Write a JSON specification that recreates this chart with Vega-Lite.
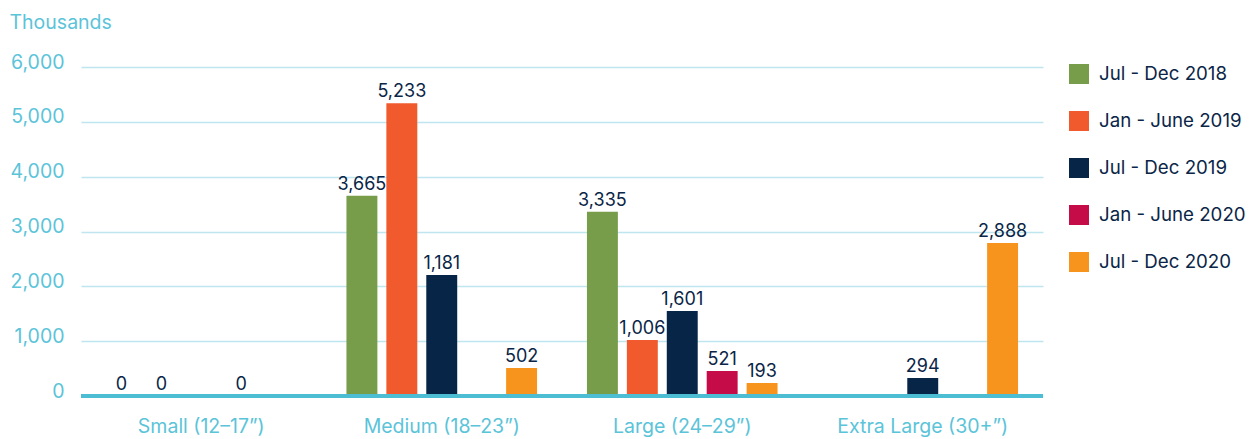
{
  "$schema": "https://vega.github.io/schema/vega-lite/v6.json",
  "width": 962,
  "height": 329,
  "autosize": {"type": "none"},
  "padding": {"left": 81, "top": 67, "right": 216, "bottom": 43},
  "background": "white",
  "config": {
    "view": {"stroke": null},
    "font": "Inter",
    "text": {"font": "Inter"}
  },
  "data": {
    "values": [
      {"size": "Small (12–17”)", "period": "Jul - Dec 2018", "value": 0, "label": "0"},
      {"size": "Small (12–17”)", "period": "Jan - June 2019", "value": 0, "label": "0"},
      {"size": "Small (12–17”)", "period": "Jan - June 2020", "value": 0, "label": "0"},
      {"size": "Medium (18–23”)", "period": "Jul - Dec 2018", "value": 3650, "label": "3,665"},
      {"size": "Medium (18–23”)", "period": "Jan - June 2019", "value": 5340, "label": "5,233"},
      {"size": "Medium (18–23”)", "period": "Jul - Dec 2019", "value": 2208, "label": "1,181"},
      {"size": "Medium (18–23”)", "period": "Jul - Dec 2020", "value": 511, "label": "502"},
      {"size": "Large (24–29”)", "period": "Jul - Dec 2018", "value": 3358, "label": "3,335"},
      {"size": "Large (24–29”)", "period": "Jan - June 2019", "value": 1022, "label": "1,006"},
      {"size": "Large (24–29”)", "period": "Jul - Dec 2019", "value": 1551, "label": "1,601"},
      {"size": "Large (24–29”)", "period": "Jan - June 2020", "value": 456, "label": "521"},
      {"size": "Large (24–29”)", "period": "Jul - Dec 2020", "value": 237, "label": "193"},
      {"size": "Extra Large (30+”)", "period": "Jul - Dec 2019", "value": 328, "label": "294"},
      {"size": "Extra Large (30+”)", "period": "Jul - Dec 2020", "value": 2792, "label": "2,888"}
    ]
  },
  "encoding": {
    "x": {
      "field": "size",
      "type": "nominal",
      "sort": ["Small (12–17”)", "Medium (18–23”)", "Large (24–29”)", "Extra Large (30+”)"],
      "scale": {"paddingInner": 0, "paddingOuter": 0},
      "axis": {
        "title": null,
        "labelAngle": 0,
        "ticks": false,
        "domain": false,
        "labelPadding": 30,
        "labelFontSize": 19.5,
        "labelColor": "#5bc4d9",
        "labelBaseline": "middle"
      }
    },
    "xOffset": {
      "field": "period",
      "type": "nominal",
      "scale": {
        "domain": ["Jul - Dec 2018", "Jan - June 2019", "Jul - Dec 2019", "Jan - June 2020", "Jul - Dec 2020"],
        "paddingInner": 0.225,
        "paddingOuter": 0.625
      }
    },
    "y": {
      "field": "value",
      "type": "quantitative",
      "scale": {"domain": [0, 6000], "nice": false},
      "axis": {
        "values": [0, 1000, 2000, 3000, 4000, 5000, 6000],
        "format": ",d",
        "title": "Thousands",
        "titleAngle": 0,
        "titleAlign": "left",
        "titleBaseline": "alphabetic",
        "titleX": -72,
        "titleY": -39,
        "titleFontSize": 19.5,
        "titleFontWeight": "normal",
        "titleColor": "#5bc4d9",
        "ticks": false,
        "domain": false,
        "labelPadding": 17,
        "labelOffset": -5,
        "labelFontSize": 19.5,
        "labelColor": "#5bc4d9",
        "gridColor": "#bfe6ef",
        "gridWidth": 1.5
      }
    }
  },
  "layer": [
    {
      "mark": {"type": "bar"},
      "encoding": {
        "color": {
          "field": "period",
          "type": "nominal",
          "scale": {
            "domain": ["Jul - Dec 2018", "Jan - June 2019", "Jul - Dec 2019", "Jan - June 2020", "Jul - Dec 2020"],
            "range": ["#789d4a", "#f05a2c", "#062547", "#c50c49", "#f7941d"]
          },
          "legend": {
            "title": null,
            "orient": "none",
            "legendX": 988,
            "legendY": -3,
            "symbolType": "square",
            "symbolSize": 400,
            "symbolStrokeWidth": 0,
            "symbolOpacity": 1,
            "labelFontSize": 18.7,
            "labelColor": "#0a2547",
            "labelOffset": 10,
            "rowPadding": 27
          }
        }
      }
    },
    {
      "mark": {"type": "rule", "color": "#4dbdd3", "strokeWidth": 3},
      "encoding": {"y": {"datum": 0}, "x": null, "xOffset": null}
    },
    {
      "mark": {"type": "text", "baseline": "alphabetic", "dy": -6, "fontSize": 18, "color": "#0a2547"},
      "encoding": {"text": {"field": "label"}}
    }
  ]
}
